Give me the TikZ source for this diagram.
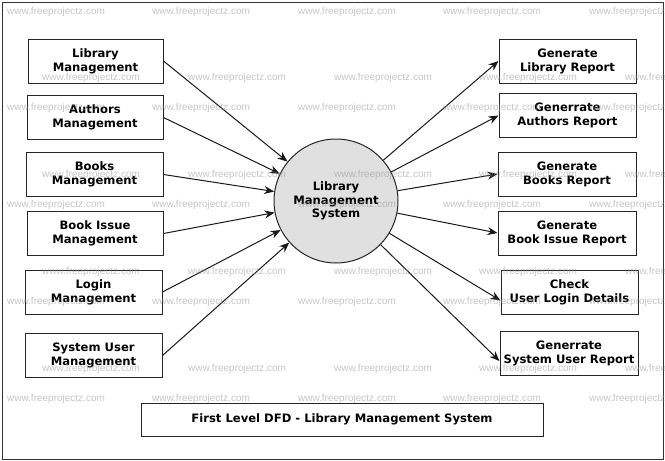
\documentclass[tikz,border=0pt]{standalone}
\usepackage{fontspec}
\setmainfont{DejaVu Sans}
\newfontfamily\wmfont{Liberation Sans}
\usepackage{tikz}
\usetikzlibrary{arrows.meta}

\begin{document}
\begin{tikzpicture}[x=1pt, y=-1pt,
    entity/.style={draw=black!85, line width=1pt, minimum width=136pt,
      minimum height=44pt, inner sep=0pt, align=center,
      font=\bfseries\fontsize{11.6}{14}\selectfont},
    process/.style={circle, draw=black!85, line width=1pt, fill=black!12,
      minimum size=124pt, inner sep=0pt, align=center,
      font=\bfseries\fontsize{11.6}{13.5}\selectfont},
    flow/.style={-{Stealth[length=10pt, width=8pt]}, line width=1pt, black!90},
    wmark/.style={font=\wmfont\fontsize{10}{10}\selectfont, text=black!45,
      text opacity=0.5, inner sep=0pt}]

      \useasboundingbox (0,0) rectangle (665,461);
      \draw[black!80, line width=0.8pt] (2,2) rectangle (663,459);

      % central process
      \node[process] (lms) at (336,201) {Library\\Management\\System};

      % sources
      \node[entity, minimum width=135pt] (libm) at (95.5,61) {Library\\Management};
      \node[entity] (autm) at (95,117.5) {Authors\\Management};
      \node[entity, minimum width=137pt] (bokm) at (94.5,174.5) {Books\\Management};
      \node[entity] (bism) at (95,233.5) {Book Issue\\Management};
      \node[entity, minimum width=137pt] (logm) at (93.5,292) {Login\\Management};
      \node[entity, minimum width=137pt] (susm) at (93.5,355.5) {System User\\Management};

      % reports
      \node[entity, minimum width=137pt] (libr) at (567.5,61) {Generate\\Library Report};
      \node[entity, minimum width=137pt] (autr) at (567.5,115.5) {Generrate\\Authors Report};
      \node[entity, minimum width=138pt] (bokr) at (567,174) {Generate\\Books Report};
      \node[entity, minimum width=138pt] (bisr) at (567,233) {Generate\\Book Issue Report};
      \node[entity, minimum width=137pt] (chkl) at (569.5,292.5) {Check\\User Login Details};
      \node[entity, minimum width=138pt] (susr) at (569,353) {Generrate\\System User Report};

      % title
      \node[entity, minimum width=402pt, minimum height=33pt] (title) at (342,419.5)
        {First Level DFD - Library Management System};

      \path[flow] (libm.east) edge (lms)
                  (autm.east) edge (lms)
                  (bokm.east) edge (lms)
                  (bism.east) edge (lms)
                  (logm.east) edge (lms)
                  (susm.east) edge (lms);

      \path[flow] (lms) edge (libr.west)
                  (lms) edge (autr.west)
                  (lms) edge (bokr.west)
                  (lms) edge (bisr.west)
                  (lms) edge ([yshift=-8pt]chkl.west)
                  (lms) edge ([yshift=-8pt]susr.west);

      % watermark
      \foreach \wy in {12,108,205,302,399}
        \foreach \wx in {56,201,347,492,638}
          \node[wmark] at (\wx,\wy) {www.freeprojectz.com};
      \foreach \wy in {78,175,272,369}
        \foreach \wx in {91,237,383,528,674}
          \node[wmark] at (\wx,\wy) {www.freeprojectz.com};
\end{tikzpicture}
\end{document}
